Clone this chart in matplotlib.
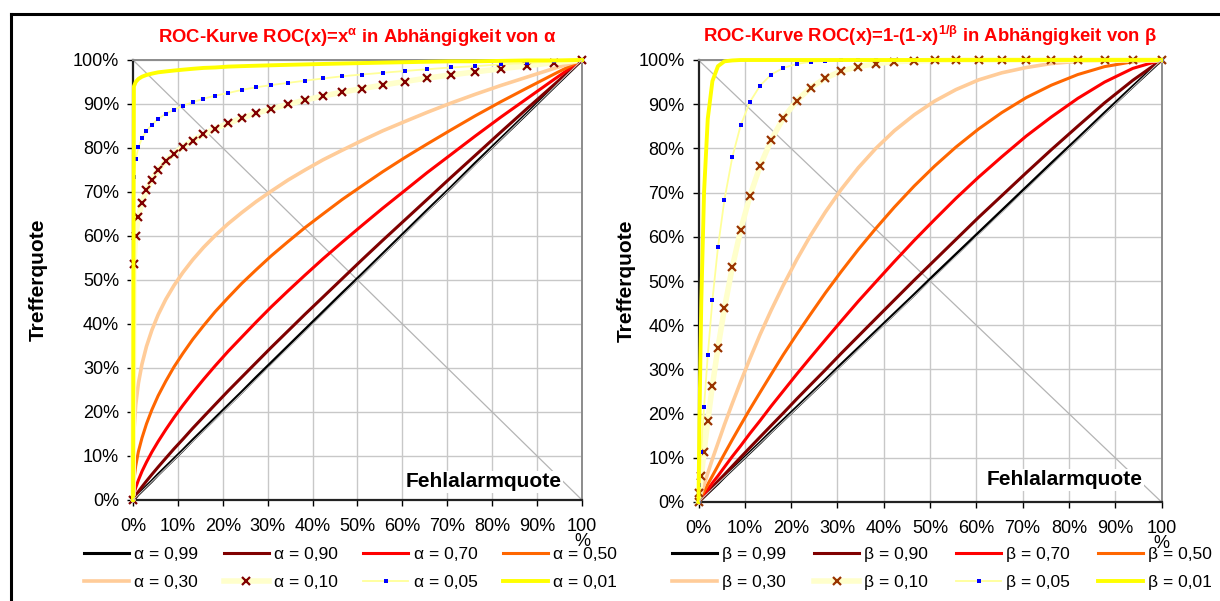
import matplotlib
matplotlib.use("Agg")
import matplotlib.pyplot as plt
from matplotlib.lines import Line2D

plt.rcParams["font.family"] = ["Liberation Sans", "DejaVu Sans"]
plt.rcParams["mathtext.fontset"] = "custom"
plt.rcParams["mathtext.rm"] = "Liberation Sans:bold"
plt.rcParams["mathtext.it"] = "Liberation Sans:bold"
plt.rcParams["mathtext.bf"] = "Liberation Sans:bold"

# Fehlalarmquote (gemeinsame x-Werte beider Diagramme)
x_vals = [0, 0.002, 0.006, 0.012, 0.020, 0.030, 0.042, 0.056, 0.073, 0.091, 0.111, 0.133,
          0.157, 0.183, 0.212, 0.242, 0.274, 0.308, 0.345, 0.383, 0.423, 0.466, 0.510, 0.556,
          0.605, 0.655, 0.708, 0.762, 0.819, 0.877, 0.938, 1.0]

# links: ROC(x) = x^alpha
alpha_labels = ["α = 0,99", "α = 0,90", "α = 0,70", "α = 0,50", "α = 0,30", "α = 0,10", "α = 0,05", "α = 0,01"]
a099 = [0, 0.002, 0.006, 0.013, 0.021, 0.031, 0.043, 0.058, 0.075, 0.093, 0.113, 0.136, 0.160, 0.186, 0.215, 0.245,
        0.278, 0.312, 0.349, 0.387, 0.427, 0.470, 0.513, 0.559, 0.608, 0.658, 0.710, 0.765, 0.821, 0.878, 0.939, 1.0]
a090 = [0, 0.004, 0.010, 0.019, 0.030, 0.043, 0.058, 0.075, 0.095, 0.116, 0.138, 0.163, 0.189, 0.217, 0.248, 0.279,
        0.312, 0.347, 0.384, 0.422, 0.461, 0.503, 0.546, 0.590, 0.636, 0.683, 0.733, 0.783, 0.836, 0.889, 0.944, 1.0]
a070 = [0, 0.013, 0.028, 0.045, 0.065, 0.086, 0.109, 0.133, 0.160, 0.187, 0.215, 0.244, 0.274, 0.305, 0.338, 0.370,
        0.404, 0.439, 0.475, 0.511, 0.548, 0.586, 0.624, 0.663, 0.703, 0.744, 0.785, 0.827, 0.870, 0.912, 0.956, 1.0]
a050 = [0, 0.045, 0.077, 0.110, 0.141, 0.173, 0.205, 0.237, 0.270, 0.302, 0.333, 0.365, 0.396, 0.428, 0.460, 0.492,
        0.523, 0.555, 0.587, 0.619, 0.650, 0.683, 0.714, 0.746, 0.778, 0.809, 0.841, 0.873, 0.905, 0.936, 0.968, 1.0]
a030 = [0, 0.155, 0.216, 0.265, 0.309, 0.349, 0.386, 0.421, 0.456, 0.487, 0.517, 0.546, 0.574, 0.601, 0.628, 0.653,
        0.678, 0.702, 0.727, 0.750, 0.773, 0.795, 0.817, 0.839, 0.860, 0.881, 0.902, 0.922, 0.942, 0.961, 0.981, 1.0]
a010 = [0, 0.537, 0.600, 0.643, 0.676, 0.704, 0.728, 0.750, 0.770, 0.787, 0.803, 0.817, 0.831, 0.844, 0.856, 0.868,
        0.879, 0.889, 0.899, 0.909, 0.918, 0.927, 0.935, 0.943, 0.951, 0.959, 0.966, 0.973, 0.980, 0.987, 0.994, 1.0]
a005 = [0, 0.733, 0.775, 0.802, 0.822, 0.839, 0.853, 0.866, 0.878, 0.887, 0.896, 0.904, 0.912, 0.919, 0.925, 0.932,
        0.938, 0.943, 0.948, 0.953, 0.958, 0.963, 0.967, 0.971, 0.975, 0.979, 0.983, 0.986, 0.990, 0.993, 0.997, 1.0]
a001 = [0, 0.940, 0.950, 0.957, 0.962, 0.966, 0.969, 0.972, 0.974, 0.976, 0.978, 0.980, 0.982, 0.983, 0.985, 0.986,
        0.987, 0.988, 0.989, 0.990, 0.991, 0.992, 0.993, 0.994, 0.995, 0.996, 0.997, 0.997, 0.998, 0.999, 0.999, 1.0]

# rechts: ROC(x) = 1-(1-x)^(1/beta)
beta_labels = ["β = 0,99", "β = 0,90", "β = 0,70", "β = 0,50", "β = 0,30", "β = 0,10", "β = 0,05", "β = 0,01"]
b099 = [0, 0.002, 0.006, 0.012, 0.020, 0.030, 0.042, 0.057, 0.074, 0.092, 0.112, 0.134, 0.159, 0.185, 0.214, 0.244,
        0.276, 0.311, 0.348, 0.386, 0.426, 0.469, 0.514, 0.560, 0.609, 0.659, 0.712, 0.766, 0.822, 0.880, 0.940, 1.0]
b090 = [0, 0.002, 0.007, 0.013, 0.022, 0.033, 0.047, 0.062, 0.081, 0.101, 0.123, 0.147, 0.173, 0.201, 0.233, 0.265,
        0.299, 0.336, 0.375, 0.415, 0.457, 0.502, 0.547, 0.594, 0.644, 0.693, 0.745, 0.797, 0.850, 0.903, 0.954, 1.0]
b070 = [0, 0.003, 0.009, 0.017, 0.028, 0.043, 0.059, 0.079, 0.103, 0.127, 0.155, 0.184, 0.217, 0.251, 0.289, 0.327,
        0.367, 0.409, 0.454, 0.498, 0.544, 0.592, 0.639, 0.687, 0.735, 0.781, 0.828, 0.871, 0.913, 0.950, 0.981, 1.0]
b050 = [0, 0.004, 0.012, 0.024, 0.040, 0.059, 0.082, 0.109, 0.141, 0.174, 0.210, 0.248, 0.289, 0.333, 0.379, 0.425,
        0.473, 0.521, 0.571, 0.619, 0.667, 0.715, 0.760, 0.803, 0.844, 0.881, 0.915, 0.943, 0.967, 0.985, 0.996, 1.0]
b030 = [0, 0.007, 0.020, 0.039, 0.065, 0.097, 0.133, 0.175, 0.223, 0.272, 0.324, 0.379, 0.434, 0.490, 0.548, 0.603,
        0.656, 0.707, 0.756, 0.800, 0.840, 0.876, 0.907, 0.933, 0.955, 0.971, 0.983, 0.992, 0.997, 0.999, 1.000, 1.0]
b010 = [0, 0.020, 0.058, 0.114, 0.183, 0.263, 0.349, 0.438, 0.531, 0.615, 0.692, 0.760, 0.819, 0.868, 0.908, 0.937,
        0.959, 0.975, 0.985, 0.992, 0.996, 0.998, 0.999, 1.000, 1.000, 1.000, 1.000, 1.000, 1.000, 1.000, 1.000, 1.0]
b005 = [0, 0.039, 0.113, 0.215, 0.332, 0.456, 0.576, 0.684, 0.780, 0.852, 0.905, 0.942, 0.967, 0.982, 0.991, 0.996,
        0.998, 0.999, 1.000, 1.000, 1.000, 1.000, 1.000, 1.000, 1.000, 1.000, 1.000, 1.000, 1.000, 1.000, 1.000, 1.0]
b001 = [0, 0.181, 0.452, 0.701, 0.867, 0.952, 0.986, 0.997, 0.999, 1.000, 1.000, 1.000, 1.000, 1.000, 1.000, 1.000,
        1.000, 1.000, 1.000, 1.000, 1.000, 1.000, 1.000, 1.000, 1.000, 1.000, 1.000, 1.000, 1.000, 1.000, 1.000, 1.0]

tick_vals = [0, 0.1, 0.2, 0.3, 0.4, 0.5, 0.6, 0.7, 0.8, 0.9, 1.0]
y_tick_labels = ["0%", "10%", "20%", "30%", "40%", "50%", "60%", "70%", "80%", "90%", "100%"]
x_tick_labels = ["0%", "10%", "20%", "30%", "40%", "50%", "60%", "70%", "80%", "90%", "100\n%"]

W, H = 1220, 601
fig = plt.figure(figsize=(W / 100, H / 100), dpi=100)


def draw_panel(rect, series, labels, cross_color, title, ylab_x, fehl_xy, legend_x, colspace):
    ax = fig.add_axes(rect)
    ax.set_xlim(0, 1)
    ax.set_ylim(0, 1)

    # Hilfslinien
    ax.plot([0, 1], [1, 0], color="#b4b4b4", lw=0.9, zorder=1)
    for t in tick_vals[1:]:
        ax.axvline(t, color="#c8c8c8", lw=1.0, zorder=0)
        ax.axhline(t, color="#c8c8c8", lw=1.0, zorder=0)

    styles = [
        dict(color="black", lw=2.2),
        dict(color="#800000", lw=2.2),
        dict(color="#ff0000", lw=2.2),
        dict(color="#ff6600", lw=2.2),
        dict(color="#ffcc99", lw=2.6),
        dict(color="#ffffcc", lw=4.0, marker="x", ms=6, mew=1.6, mec=cross_color),
        dict(color="#ffff99", lw=1.3, marker="s", ms=2.6, mew=0, mfc="#0000ff"),
        dict(color="#ffff00", lw=2.8),
    ]
    handles = []
    for ys, lab, st in zip(series, labels, styles):
        h, = ax.plot(x_vals, ys, label=lab, clip_on=False, zorder=3, **st)
        handles.append(h)
    ax.plot([0, 1], [0, 1], color="#d0d0d0", lw=0.7, zorder=3.5)

    for side in ["top", "right"]:
        ax.spines[side].set_color("#8c8c8c")
        ax.spines[side].set_linewidth(1.4)
    for side in ["left", "bottom"]:
        ax.spines[side].set_color("#222222")
        ax.spines[side].set_linewidth(1.6)

    ax.set_xticks(tick_vals)
    ax.set_xticklabels(x_tick_labels, fontsize=13, linespacing=0.85, va="top")
    ax.set_yticks(tick_vals)
    ax.set_yticklabels(y_tick_labels, fontsize=13)
    ax.tick_params(axis="x", length=4, width=1, pad=9)
    ax.tick_params(axis="y", length=4, width=1, pad=6)

    ax.set_title(title, color="#ff0000", fontsize=13.3, fontweight="bold", pad=13)
    ax.set_ylabel("Trefferquote", fontsize=15, fontweight="bold")
    ax.yaxis.set_label_coords(ylab_x, 0.5)
    ax.text(fehl_xy[0], fehl_xy[1], "Fehlalarmquote", transform=ax.transAxes, fontsize=15,
            fontweight="bold", ha="center", va="center", zorder=5,
            bbox=dict(facecolor="white", edgecolor="none", pad=1))

    order = [0, 4, 1, 5, 2, 6, 3, 7]
    fig.legend([handles[i] for i in order], [labels[i] for i in order], ncol=4,
               loc="upper left", bbox_to_anchor=(legend_x / W, 1 - 547 / H),
               frameon=False, fontsize=12.5, handlelength=2.6, handletextpad=0.3,
               columnspacing=colspace, borderpad=0, borderaxespad=0, labelspacing=0.75)
    return ax


draw_panel([133 / W, 1 - 500 / H, 449 / W, 440 / H],
           [a099, a090, a070, a050, a030, a010, a005, a001], alpha_labels, "#800000",
           "ROC-Kurve ROC(x)=x$^{α}$ in Abhängigkeit von α", -0.19, (0.78, 0.041), 84, 1.46)
draw_panel([698.5 / W, 1 - 502 / H, 463 / W, 442 / H],
           [b099, b090, b070, b050, b030, b010, b005, b001], beta_labels, "#993300",
           "ROC-Kurve ROC(x)=1-(1-x)$^{1/β}$ in Abhängigkeit von β", -0.135, (0.79, 0.05), 672, 1.6)

# Rahmen
fig.add_artist(Line2D([11 / W, 1], [1 - 14 / H, 1 - 14 / H], color="black", lw=2.2))
fig.add_artist(Line2D([11 / W, 11 / W], [0, 1 - 14 / H], color="black", lw=2.2))

fig.savefig("out.png", dpi=100)
